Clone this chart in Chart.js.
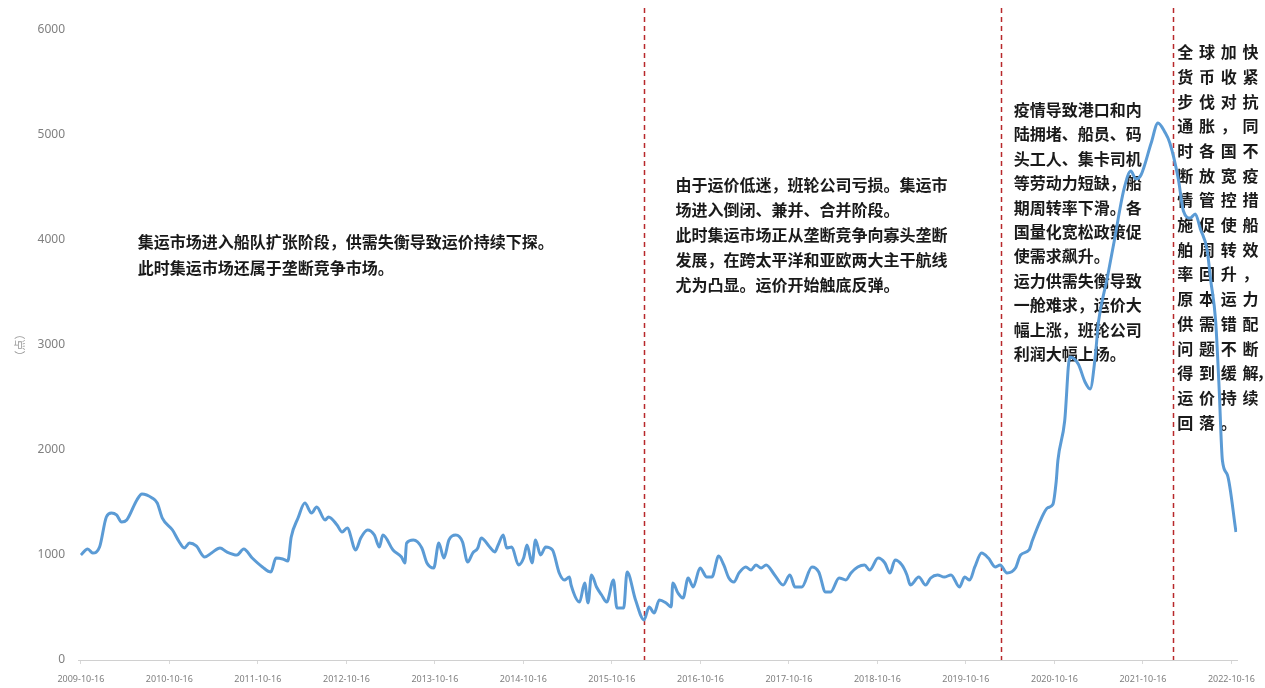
<!DOCTYPE html>
<html>
<head>
<meta charset="utf-8">
<script src="https://cdn.jsdelivr.net/npm/chart.js@4.4.0/dist/chart.umd.min.js"></script>
<style>
  html, body { margin: 0; padding: 0; background: #fff; }
  #wrap { width: 1265px; height: 688px; position: relative; }
</style>
</head>
<body>
<div id="wrap"><canvas id="scfi"></canvas></div>
<script>
// weekly freight index, week numbers counted from the first release
const startDate = '2009-10-16';

const weekNo = [0, 4, 7, 11, 15, 18, 21, 24, 27, 33, 36, 42, 45, 48, 54, 58, 61, 64, 68, 73,
  77, 82, 86, 92, 96, 101, 107, 112, 115, 119, 122, 124, 128, 132, 136, 139, 144, 146, 151, 154,
  157, 162, 165, 169, 173, 176, 178, 184, 189, 191, 192, 196, 201, 204, 208, 211, 214, 217, 221, 225,
  228, 231, 234, 236, 241, 244, 246, 249, 251, 254, 258, 261, 263, 266, 268, 271, 274, 278, 282, 285,
  288, 289, 294, 297, 299, 301, 304, 307, 310, 314, 316, 320, 322, 327, 332, 335, 338, 341, 345, 348,
  349, 352, 355, 358, 361, 365, 369, 372, 376, 379, 382, 385, 388, 392, 395, 398, 401, 404, 409, 414,
  418, 421, 425, 431, 435, 439, 442, 447, 451, 454, 458, 462, 465, 470, 474, 477, 480, 484, 487, 489,
  494, 498, 501, 505, 509, 513, 518, 521, 524, 527, 531, 535, 539, 542, 546, 551, 554, 559, 561, 566,
  570, 573, 575, 576, 580, 583, 588, 592, 595, 598, 600, 605, 609, 615, 619, 622, 625, 631, 635, 639,
  642, 647, 650, 654, 657, 660, 664, 666, 669, 671, 673, 676, 681];

const indexValues = [1000, 1057, 1019, 1076, 1362, 1400, 1381, 1314, 1333, 1524, 1581, 1543, 1495, 1352, 1238, 1124, 1067, 1114, 1086, 981,
  1019, 1067, 1029, 1000, 1057, 971, 886, 838, 971, 962, 943, 1171, 1352, 1495, 1400, 1457, 1333, 1362, 1286, 1219,
  1257, 1048, 1162, 1238, 1190, 1076, 1190, 1048, 981, 924, 1114, 1143, 1067, 924, 876, 1114, 971, 1143, 1190, 1124,
  933, 1019, 1067, 1162, 1076, 1029, 1095, 1190, 1067, 1076, 905, 971, 1095, 924, 1143, 1000, 1076, 1048, 829, 762,
  790, 714, 552, 733, 543, 810, 695, 619, 552, 762, 495, 495, 838, 571, 381, 505, 448, 571, 543, 505,
  733, 638, 590, 781, 695, 876, 790, 790, 990, 905, 781, 743, 829, 886, 857, 905, 876, 905, 810, 714,
  810, 695, 695, 886, 838, 648, 648, 781, 762, 829, 886, 905, 857, 971, 924, 829, 952, 905, 810, 714,
  790, 714, 781, 810, 790, 810, 695, 790, 762, 886, 1019, 971, 886, 905, 829, 876, 1000, 1048, 1140, 1340,
  1450, 1480, 1700, 1900, 2276, 2886, 2819, 2648, 2581, 2886, 3229, 3629, 3971, 4486, 4657, 4581, 4619, 4924, 5114, 5029,
  4924, 4581, 4276, 4210, 4248, 4105, 3905, 3629, 3229, 2610, 1900, 1760, 1219];

const tickDates = ['2009-10-16', '2010-10-16', '2011-10-16', '2012-10-16', '2013-10-16', '2014-10-16', '2015-10-16',
  '2016-10-16', '2017-10-16', '2018-10-16', '2019-10-16', '2020-10-16', '2021-10-16', '2022-10-16'];

// phase boundaries
const dividerDates = ['2016-02-24', '2020-03-09', '2022-02-19'];

const phaseNotes = [
  { date: '2010-06-08', value: 3980, lineHeight: 26, lines: [
    '集运市场进入船队扩张阶段，供需失衡导致运价持续下探。',
    '此时集运市场还属于垄断竞争市场。'] },
  { date: '2016-07-05', value: 4524, lineHeight: 25, lines: [
    '由于运价低迷，班轮公司亏损。集运市',
    '场进入倒闭、兼并、合并阶段。',
    '此时集运市场正从垄断竞争向寡头垄断',
    '发展，在跨太平洋和亚欧两大主干航线',
    '尤为凸显。运价开始触底反弹。'] },
  { date: '2020-05-01', value: 5238, lineHeight: 24.4, lines: [
    '疫情导致港口和内',
    '陆拥堵、船员、码',
    '头工人、集卡司机',
    '等劳动力短缺，船',
    '期周转率下滑。各',
    '国量化宽松政策促',
    '使需求飙升。',
    '运力供需失衡导致',
    '一舱难求，运价大',
    '幅上涨，班轮公司',
    '利润大幅上扬。'] }
];

// last phase note is set as a narrow four-character grid
const gridNote = { date: '2022-04-09', value: 5790, colStep: 21.7, rowStep: 24.7, rows: [
  '全球加快', '货币收紧', '步伐对抗', '通胀，同', '时各国不', '断放宽疫', '情管控措', '施促使船',
  '舶周转效', '率回升，', '原本运力', '供需错配', '问题不断', '得到缓解，', '运价持续', '回落。'] };

const days = s => (Date.parse(s) - Date.parse(startDate)) / 86400000;

const points = weekNo.map((w, i) => ({ x: w * 7, y: indexValues[i] }));

const notesPlugin = {
  id: 'phaseNotes',
  beforeDatasetsDraw(chart) {
    const { ctx, chartArea } = chart;
    const x = chart.scales.x, y = chart.scales.y;
    ctx.save();

    ctx.strokeStyle = '#b8282b';
    ctx.lineWidth = 1.5;
    ctx.setLineDash([5, 4]);
    dividerDates.forEach(d => {
      const px = Math.round(x.getPixelForValue(days(d))) + 0.5;
      ctx.beginPath();
      ctx.moveTo(px, chartArea.top - 22);
      ctx.lineTo(px, chartArea.bottom);
      ctx.stroke();
    });
    ctx.setLineDash([]);

    ctx.fillStyle = '#1a1a1a';
    ctx.font = "bold 16px 'Noto Sans CJK SC'";
    ctx.textBaseline = 'middle';
    ctx.textAlign = 'left';
    phaseNotes.forEach(n => {
      const px = x.getPixelForValue(days(n.date));
      const py = y.getPixelForValue(n.value);
      n.lines.forEach((line, i) => ctx.fillText(line, px, py + i * n.lineHeight));
    });

    ctx.textAlign = 'center';
    const gx = x.getPixelForValue(days(gridNote.date));
    const gy = y.getPixelForValue(gridNote.value);
    gridNote.rows.forEach((row, r) => {
      Array.from(row).forEach((ch, c) => {
        const cx = c < 4 ? gx + c * gridNote.colStep : gx + 3 * gridNote.colStep + 14;
        ctx.fillText(ch, cx, gy + r * gridNote.rowStep);
      });
    });
    ctx.restore();
  }
};

new Chart(document.getElementById('scfi'), {
  type: 'line',
  data: {
    datasets: [{
      data: points,
      borderColor: '#5B9BD5',
      borderWidth: 3,
      pointRadius: 0,
      cubicInterpolationMode: 'monotone',
      fill: false
    }]
  },
  options: {
    responsive: true,
    maintainAspectRatio: false,
    animation: false,
    layout: { padding: { top: 30, right: 25, left: 0, bottom: 0 } },
    plugins: {
      legend: { display: false },
      tooltip: { enabled: false }
    },
    scales: {
      x: {
        type: 'linear',
        min: -12,
        max: 4772,
        afterBuildTicks: s => { s.ticks = tickDates.map(d => ({ value: days(d) })); },
        afterFit: s => { s.height = 28; },
        grid: { display: true, drawOnChartArea: false, tickLength: 4, color: '#d9d9d9' },
        border: { display: true, color: '#d0d0d0', width: 1 },
        ticks: {
          autoSkip: false,
          maxRotation: 0,
          padding: 10,
          color: '#7f7f7f',
          font: { size: 9, family: 'Noto Sans' },
          callback: (v, i) => tickDates[i]
        }
      },
      y: {
        min: 0,
        max: 6000,
        afterFit: s => { s.width = 78; },
        grid: { display: false, drawTicks: false },
        border: { display: false },
        ticks: {
          stepSize: 1000,
          padding: 13,
          color: '#808080',
          font: { size: 12, family: 'Noto Sans' },
          callback: v => String(v)
        },
        title: {
          display: true,
          text: '（点）',
          color: '#999999',
          font: { size: 11, family: 'Noto Sans CJK SC' },
          padding: { top: 13, bottom: 0 }
        }
      }
    }
  },
  plugins: [notesPlugin]
});
</script>
</body>
</html>
